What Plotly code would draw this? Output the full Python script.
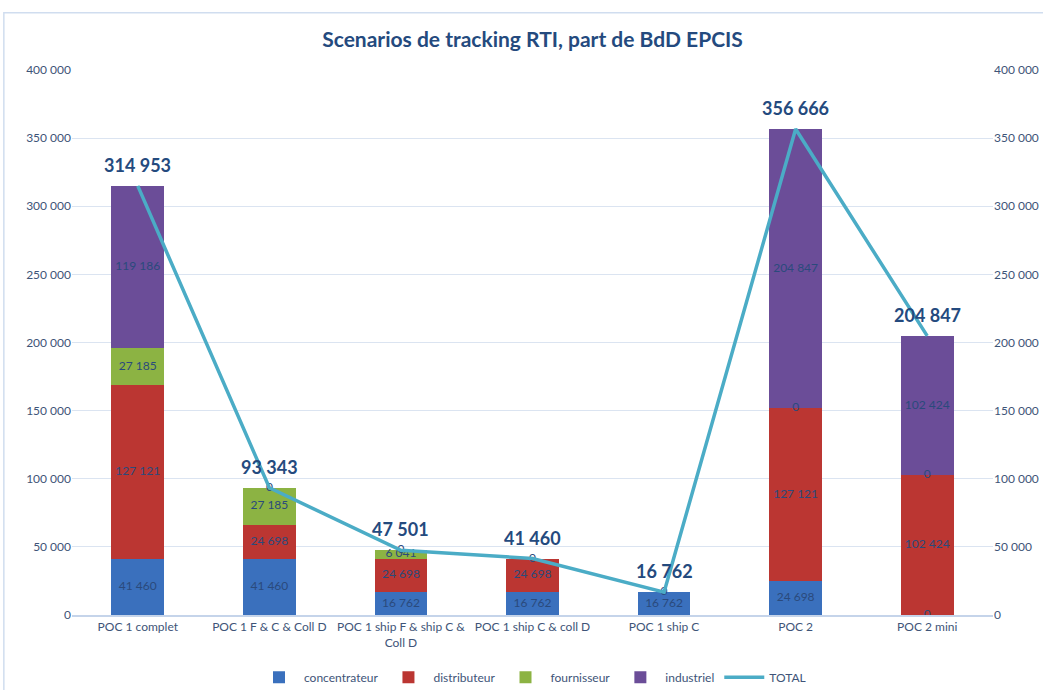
import plotly.graph_objects as go

categories = [
    "POC 1 complet",
    "POC 1 F & C & Coll D",
    "POC 1 ship F & ship C &<br>Coll D",
    "POC 1 ship C & coll D",
    "POC 1 ship C",
    "POC 2",
    "POC 2 mini",
]
concentrateur = [41460, 41460, 16762, 16762, 16762, 24698, 0]
distributeur = [127121, 24698, 24698, 24698, 0, 127121, 102424]
fournisseur = [27185, 27185, 6041, 0, 0, 0, 0]
industriel = [119186, 0, 0, 0, 0, 204847, 102424]
total = [314953, 93343, 47501, 41460, 16762, 356666, 204847]

y_ticks = [0, 50000, 100000, 150000, 200000, 250000, 300000, 350000, 400000]

FONT = "Lato, 'Open Sans', sans-serif"
LABEL_COLOR = "#2a4a7c"
AXIS_COLOR = "#3e5478"
GRID_COLOR = "#dbe4f1"


def fmt(v):
    return f"{v:,}".replace(",", " ")


series = [
    ("concentrateur", concentrateur, "#3a70bd"),
    ("distributeur", distributeur, "#bb3632"),
    ("fournisseur", fournisseur, "#8cb343"),
    ("industriel", industriel, "#6b4d98"),
]

fig = go.Figure()

# stacked bars
for name, vals, color in series:
    fig.add_trace(go.Bar(
        x=categories, y=vals, name=name,
        marker=dict(color=color, line=dict(width=0)),
        width=0.4,
        hoverinfo="x+y+name",
    ))

# segment value labels at the middle of each stacked segment;
# zero segments that fall on the same spot share one label
lab_x, lab_y, lab_t = [], [], []
seen = set()
base = [0] * len(categories)
for name, vals, color in series:
    for i, v in enumerate(vals):
        pos = (i, base[i] + v / 2)
        if pos not in seen:
            seen.add(pos)
            lab_x.append(categories[i])
            lab_y.append(pos[1])
            lab_t.append(fmt(v))
        base[i] += v
fig.add_trace(go.Scatter(
    x=lab_x, y=lab_y, text=lab_t, mode="text",
    textfont=dict(family=FONT, size=12, color=LABEL_COLOR),
    showlegend=False, hoverinfo="skip",
))

# total line on the secondary axis
fig.add_trace(go.Scatter(
    x=categories, y=total, name="TOTAL", mode="lines",
    line=dict(color="#4bacc6", width=3.5),
    yaxis="y2",
))

# total value labels above the bars
for c, t in zip(categories, total):
    fig.add_annotation(
        x=c, y=t, yref="y2", text=f"<b>{fmt(t)}</b>",
        showarrow=False, yshift=21,
        font=dict(family=FONT, size=18, color="#244a7e"),
    )

axis_common = dict(
    range=[0, 400000], tickvals=y_ticks, tickformat=",d",
    tickfont=dict(family=FONT, size=12, color=AXIS_COLOR),
    showline=False, ticks="", zeroline=False, automargin=False,
)

fig.update_layout(
    width=1043, height=690,
    margin=dict(l=72, r=50, t=70, b=75, autoexpand=False),
    paper_bgcolor="white", plot_bgcolor="white",
    separators=", ",
    barmode="stack",
    title=dict(
        text="<b>Scenarios de tracking RTI, part de BdD EPCIS</b>",
        xref="paper", x=0.5, xanchor="center", y=0.943, yanchor="middle",
        font=dict(family=FONT, size=21, color="#244a7e"),
    ),
    xaxis=dict(
        tickfont=dict(family=FONT, size=12, color=AXIS_COLOR),
        showline=True, linecolor="#c5d4ea", linewidth=2,
        ticks="", showgrid=False, automargin=False,
    ),
    yaxis=dict(**axis_common, showgrid=True, gridcolor=GRID_COLOR, gridwidth=1),
    yaxis2=dict(**axis_common, overlaying="y", side="right", showgrid=False),
    legend=dict(
        orientation="h", x=0.5, xanchor="center", y=-0.114, yanchor="middle",
        font=dict(family=FONT, size=12, color=AXIS_COLOR),
        traceorder="normal", itemwidth=40,
    ),
    shapes=[dict(
        type="rect", xref="paper", yref="paper",
        x0=-0.074, x1=1.1, y0=-0.2, y1=1.105,
        line=dict(color="#d0ddef", width=1.5), fillcolor="rgba(0,0,0,0)",
        layer="below",
    )],
)

fig.write_html("out.html")
